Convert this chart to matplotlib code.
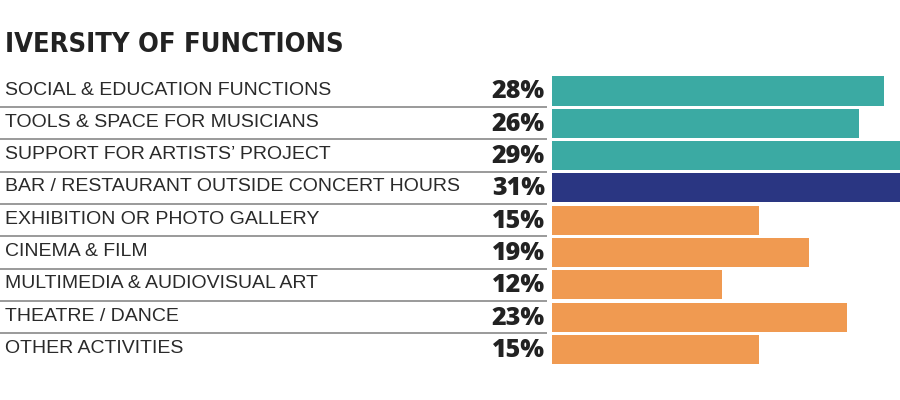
import matplotlib
matplotlib.use("Agg")
import matplotlib.pyplot as plt
import matplotlib.transforms as mtransforms
from matplotlib import font_manager as fm

title = "IVERSITY OF FUNCTIONS"
categories = [
    "SOCIAL & EDUCATION FUNCTIONS",
    "TOOLS & SPACE FOR MUSICIANS",
    "SUPPORT FOR ARTISTS\u2019 PROJECT",
    "BAR / RESTAURANT OUTSIDE CONCERT HOURS",
    "EXHIBITION OR PHOTO GALLERY",
    "CINEMA & FILM",
    "MULTIMEDIA & AUDIOVISUAL ART",
    "THEATRE / DANCE",
    "OTHER ACTIVITIES",
]
pct_labels = ["28%", "26%", "29%", "31%", "15%", "19%", "12%", "23%", "15%"]
# bar lengths as drawn in the picture (same units as the axis)
bar_lengths = [27.7, 25.6, 30.0, 32.0, 17.25, 21.4, 14.2, 24.6, 17.25]
groups = ["teal", "teal", "teal", "navy", "orange", "orange", "orange", "orange", "orange"]

palette = {"teal": "#3BAAA3", "navy": "#2A3682", "orange": "#F09A51"}
text_color = "#222222"

# find a condensed bold font for the title
title_fp = None
files = fm.findSystemFonts()
for key in ["LiberationSansNarrow-Bold.", "DejaVuSansCondensed-Bold."]:
    for f in files:
        if key in f.split("/")[-1]:
            title_fp = fm.FontProperties(fname=f)
            break
    if title_fp is not None:
        break
if title_fp is None:
    title_fp = fm.FontProperties(family="DejaVu Sans", weight="bold", stretch="condensed")
title_fp.set_size(19.5)

W, H = 900, 400
fig = plt.figure(figsize=(W / 100, H / 100), dpi=100)
ax = fig.add_axes([0, 0, 1, 1])
ax.set_axis_off()

px_per_unit = 12.0
bar_x0 = 552
row0 = 91.0
row_h = 32.3
ax.set_xlim(-bar_x0 / px_per_unit, (W - bar_x0) / px_per_unit)
ax.set_ylim((H - row0) / row_h, -row0 / row_h)

n = len(categories)
ys = list(range(n))
ax.barh(ys, bar_lengths, height=0.9, left=0,
        color=[palette[g] for g in groups], edgecolor="none")

# separators
sep_end = (547 - bar_x0) / px_per_unit
ax.hlines([i + 0.5 for i in range(n - 1)], -bar_x0 / px_per_unit, sep_end,
          color="#9a9a9a", linewidth=1.4)

trans = mtransforms.blended_transform_factory(fig.transFigure, ax.transData)
for i, (cat, pl) in enumerate(zip(categories, pct_labels)):
    ax.text(5 / W, i - 0.03, cat, transform=trans, ha="left", va="center",
            fontsize=14, family="Liberation Sans", color="#2a2a2a")
    ax.text(545 / W, i + 0.03, pl, transform=trans, ha="right", va="center",
            fontsize=18, family="Open Sans", fontweight="heavy", color=text_color)

fig.text(5 / W, 1 - 45 / H, title, ha="left", va="center",
         fontproperties=title_fp, color=text_color)

fig.savefig("out.png", dpi=100, facecolor="white")
